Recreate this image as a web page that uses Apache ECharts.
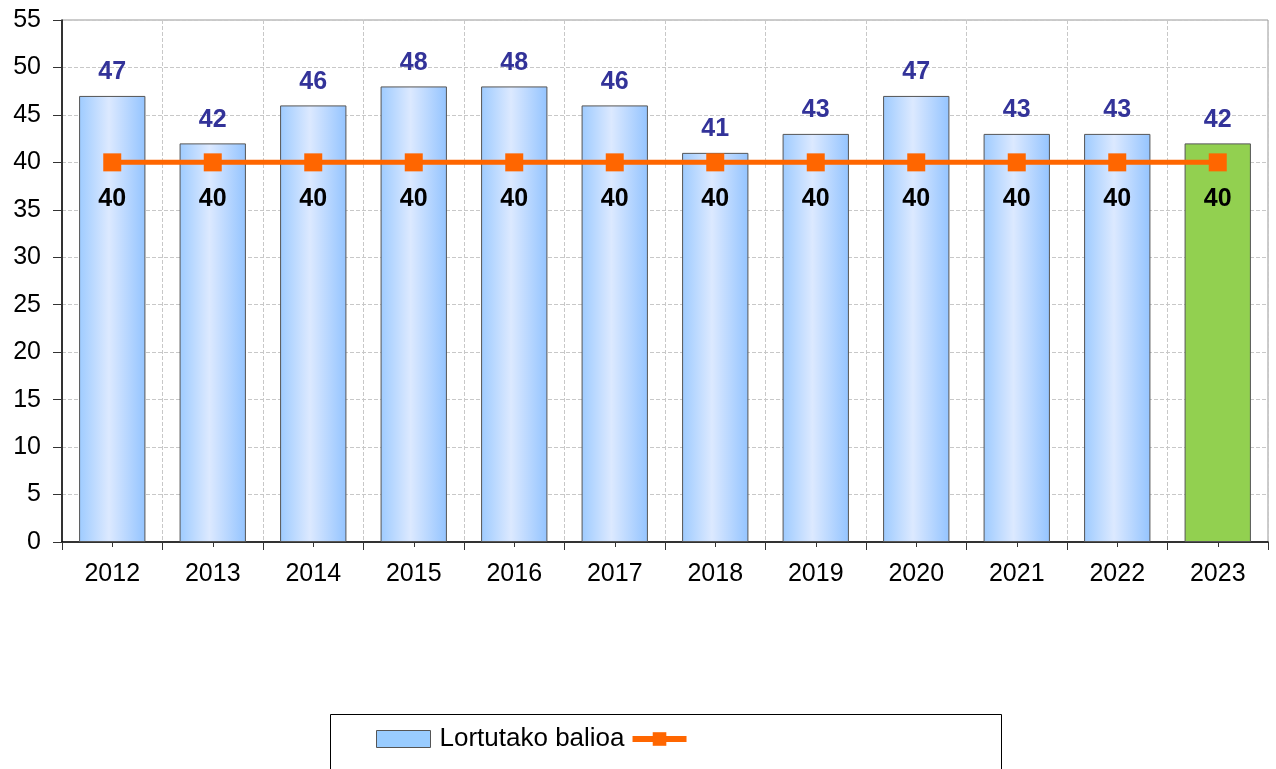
<!DOCTYPE html>
<html>
<head>
<meta charset="utf-8">
<script src="https://cdn.jsdelivr.net/npm/echarts@6/dist/echarts.min.js"></script>
<style>
  html, body { margin: 0; padding: 0; background: #fff; }
  #chart { width: 1276px; height: 769px; }
</style>
</head>
<body>
<div id="chart"></div>
<script>
var years = ['2012', '2013', '2014', '2015', '2016', '2017', '2018', '2019', '2020', '2021', '2022', '2023'];
var obtained = [47, 42, 46, 48, 48, 46, 41, 43, 47, 43, 43, 42];
var target = [40, 40, 40, 40, 40, 40, 40, 40, 40, 40, 40, 40];
var barName = 'Lortutako balioa';
var lineName = ' ';

var font = 'Arial, "Liberation Sans", sans-serif';
var blueBar = new echarts.graphic.LinearGradient(0, 0, 1, 0, [
    { offset: 0, color: '#9ecbff' },
    { offset: 0.45, color: '#dce9ff' },
    { offset: 1, color: '#94c4ff' }
]);

// 最后一年用绿色
var barData = obtained.map(function (v, i) {
    if (i === obtained.length - 1) {
        return { value: v, itemStyle: { color: '#92d050' } };
    }
    return v;
});

var myChart = echarts.init(document.getElementById('chart'));
myChart.setOption({
    animation: false,
    textStyle: { fontFamily: font },
    grid: { left: 62, right: 8, top: 20, bottom: 227, show: true, borderColor: '#999', borderWidth: 1 },
    graphic: [{
        type: 'rect',
        shape: { x: 330.5, y: 714.5, width: 671, height: 70 },
        style: { fill: '#fff', stroke: '#000', lineWidth: 1 },
        z: -1
    }],
    legend: {
        left: 371,
        top: 721,
        itemWidth: 54,
        itemHeight: 17,
        itemGap: 5,
        textStyle: { fontSize: 26, color: '#000', fontFamily: font, padding: [0, 4, 0, 4] },
        data: [
            { name: barName, icon: 'rect', itemStyle: { color: '#99ccff', borderColor: '#555', borderWidth: 1 } },
            { name: lineName, lineStyle: { width: 6, color: '#ff6600' } }
        ]
    },
    xAxis: [
        {
            type: 'category',
            data: years,
            axisLine: { lineStyle: { color: '#000', width: 1.5 } },
            axisTick: { show: true, length: 8, lineStyle: { color: '#333' } },
            axisLabel: { fontSize: 25, color: '#000', margin: 20 },
            splitLine: { show: true, lineStyle: { type: 'dashed', color: '#c8c8c8' } }
        },
        {
            type: 'category',
            data: years,
            position: 'bottom',
            axisLine: { show: false },
            axisTick: { show: true, alignWithLabel: true, length: 5, lineStyle: { color: '#333' } },
            axisLabel: { show: false },
            splitLine: { show: false }
        }
    ],
    yAxis: {
        type: 'value',
        min: 0,
        max: 55,
        interval: 5,
        axisLine: { show: true, lineStyle: { color: '#000', width: 1.5 } },
        axisTick: { show: true, length: 9, lineStyle: { color: '#333' } },
        axisLabel: { fontSize: 25, color: '#000', margin: 21 },
        splitLine: { show: true, lineStyle: { type: 'dashed', color: '#c8c8c8' } }
    },
    series: [
        {
            name: barName,
            type: 'bar',
            barWidth: '66%',
            data: barData,
            itemStyle: { color: blueBar, borderColor: '#555', borderWidth: 1 },
            label: {
                show: true,
                position: 'top',
                distance: 11,
                fontSize: 25,
                fontWeight: 'bold',
                color: '#333399'
            }
        },
        {
            name: lineName,
            type: 'line',
            data: target,
            symbol: 'rect',
            symbolSize: 18,
            lineStyle: { color: '#ff6600', width: 5 },
            itemStyle: { color: '#ff6600' },
            label: {
                show: true,
                position: 'bottom',
                distance: 15,
                fontSize: 25,
                fontWeight: 'bold',
                color: '#000'
            },
            z: 5
        }
    ]
});
</script>
</body>
</html>
